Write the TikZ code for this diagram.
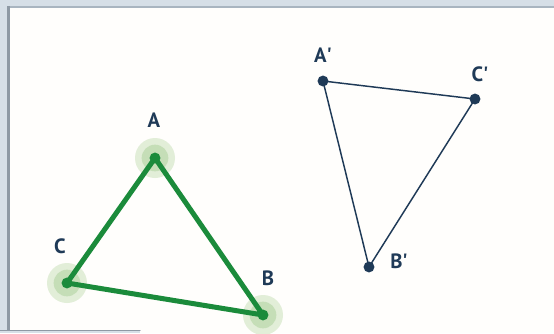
\documentclass[tikz,border=0pt]{standalone}
\usepackage{fontspec}
\setmainfont{PT Sans}
\usetikzlibrary{positioning}

\definecolor{framebg}{HTML}{D6DFE7}
\definecolor{frameline}{HTML}{8E99A4}
\definecolor{topline}{HTML}{A9B5C0}
\definecolor{panel}{HTML}{FFFEFC}
\definecolor{trigreen}{HTML}{1B8B3B}
\definecolor{haloout}{HTML}{E2EED8}
\definecolor{haloin}{HTML}{C5DEB7}
\definecolor{navy}{HTML}{1F3A57}

\tikzset{
  lbl/.style={font=\bfseries\fontsize{15.5}{15.5}\selectfont,text=navy,inner sep=0pt},
  greenedge/.style={draw=trigreen,line width=3.75pt},
  navyedge/.style={draw=navy,line width=1.1pt},
}

\begin{document}
\begin{tikzpicture}[x=0.75pt,y=-0.75pt,line cap=round,line join=round]
  \useasboundingbox (0,0) rectangle (554,333);
  % window frame
  \fill[framebg] (0,0) rectangle (554,333);
  \fill[panel] (10,8) rectangle (554,333);
  \fill[topline] (7,6) rectangle (554,8);
  \fill[frameline] (7,6) rectangle (10,333);
  \fill[framebg] (0,331) rectangle (140,333);
  \draw[frameline,line width=0.9pt] (0,330.6) -- (140,330.6);

  \coordinate (A) at (155,158);
  \coordinate (B) at (263,315);
  \coordinate (C) at (67,283);
  \coordinate (Ap) at (323,81);
  \coordinate (Bp) at (369,267);
  \coordinate (Cp) at (475,99);

  % glow round the green vertices
  \foreach \v in {A,B,C} {
    \fill[haloout] (\v) circle (15pt);
    \fill[haloin] (\v) circle (10pt);
  }
  \draw[greenedge] (A) -- (B) -- (C) -- cycle;
  \foreach \v in {A,B,C}
    \fill[trigreen] (\v) circle (4.1pt);

  \draw[navyedge] (Ap) -- (Bp) -- (Cp) -- cycle;
  \foreach \v in {Ap,Bp,Cp}
    \fill[navy] (\v) circle (4.1pt);

  \node[lbl] (labA) at (154,120) {A};
  \node[lbl] (labB) at (268,278) {B};
  \node[lbl] (labC) at (60,246) {C};
  \node[lbl] (labAp) at (323,55) {A\textquotesingle};
  \node[lbl] (labBp) at (399,261) {B\textquotesingle};
  \node[lbl] (labCp) at (480,74) {C\textquotesingle};
\end{tikzpicture}
\end{document}
